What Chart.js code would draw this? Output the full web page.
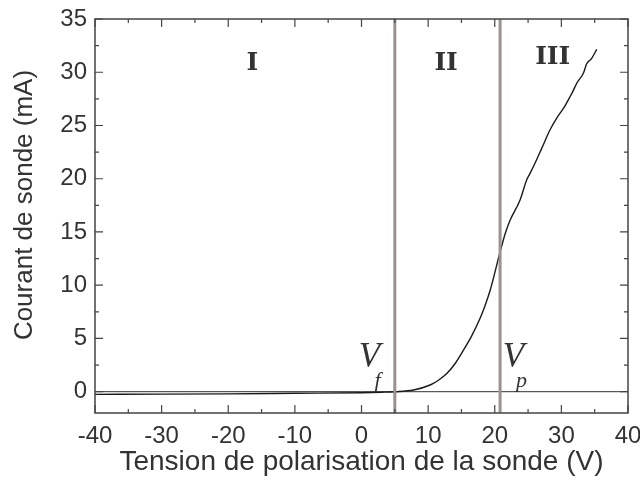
<!DOCTYPE html>
<html>
<head>
<meta charset="utf-8">
<script src="https://cdn.jsdelivr.net/npm/chart.js@4/dist/chart.umd.min.js"></script>
<style>
  html, body { margin: 0; padding: 0; background: #fff; }
  #wrap { width: 640px; height: 479px; }
</style>
</head>
<body>
<div id="wrap"><canvas id="probeChart" width="640" height="479"></canvas></div>
<script>
// probe voltage (V) and probe current (mA)
const voltage = [-40, -30, -20, -10, 0, 3, 5, 7.8, 10.3, 11.5, 12.8, 14, 15.3, 16.5, 17.8, 18.5, 19.3, 19.9, 20.5, 21.05, 21.6, 22.3, 23.8, 24.8, 25.3, 26.0, 27.05, 28.3, 29.3, 30.5, 31.3, 31.8, 32.3, 33.3, 33.8, 34.55, 35.3];
const current = [-0.25, -0.23, -0.2, -0.15, -0.1, -0.05, 0, 0.16, 0.63, 1.05, 1.7, 2.6, 3.9, 5.2, 6.9, 8.0, 9.5, 10.9, 12.4, 13.7, 14.9, 16.1, 18.0, 19.9, 20.5, 21.4, 22.85, 24.6, 25.7, 26.8, 27.7, 28.3, 28.96, 29.9, 30.8, 31.3, 32.15];

const xTicks = [-40, -30, -20, -10, 0, 10, 20, 30, 40];
const yTicks = [0, 5, 10, 15, 20, 25, 30, 35];

const vFloat = 5;     // V_f
const vPlasma = 20.8; // V_p
const regions = ['I', 'II', 'III'];

const X_MIN = -40, X_MAX = 40, Y_MIN = -2, Y_MAX = 35;
const ink = '#333333';
const sepColor = '#9b918d';

document.addEventListener("DOMContentLoaded", () => {

  const curve = voltage.map((v, i) => ({ x: v, y: current[i] }));

  // frame, inward ticks on all four sides, and the text annotations
  const framePlugin = {
    id: 'frame',
    afterDatasetsDraw(chart) {
      const { ctx, chartArea: a, scales: { x, y } } = chart;
      ctx.save();
      ctx.strokeStyle = '#444';
      ctx.lineWidth = 1.5;
      ctx.strokeRect(a.left, a.top, a.right - a.left, a.bottom - a.top);

      ctx.lineWidth = 1.2;
      ctx.beginPath();
      for (let v = X_MIN; v <= X_MAX; v += 5) {
        const px = x.getPixelForValue(v);
        const len = v % 10 === 0 ? 8 : 4;
        ctx.moveTo(px, a.bottom); ctx.lineTo(px, a.bottom - len);
        ctx.moveTo(px, a.top); ctx.lineTo(px, a.top + len);
      }
      for (let v = 0; v <= Y_MAX; v += 2.5) {
        const py = y.getPixelForValue(v);
        const len = v % 5 === 0 ? 8 : 4;
        ctx.moveTo(a.left, py); ctx.lineTo(a.left + len, py);
        ctx.moveTo(a.right, py); ctx.lineTo(a.right - len, py);
      }
      ctx.stroke();

      // region numerals
      ctx.fillStyle = ink;
      ctx.textAlign = 'center';
      ctx.textBaseline = 'middle';
      ctx.font = 'bold 25px "DejaVu Serif"';
      const regionPos = [[-16.4, 30.8], [12.7, 30.8], [28.7, 31.4]];
      regions.forEach((r, i) => {
        ctx.fillText(r, x.getPixelForValue(regionPos[i][0]), y.getPixelForValue(regionPos[i][1]));
      });

      // V_f and V_p
      const vLabel = (xv, sub) => {
        const px = x.getPixelForValue(xv);
        const py = y.getPixelForValue(3);
        ctx.font = 'italic 35px "Liberation Serif"';
        ctx.fillText('V', px, py - 2);
        ctx.font = 'italic 22px "Liberation Serif"';
        ctx.fillText(sub, px + 8, py + 21);
      };
      vLabel(vFloat - 3.8, 'f');
      vLabel(vPlasma + 2.0, 'p');

      // y axis title, set a little above the plot's centre as in the picture
      ctx.save();
      ctx.translate(25, (a.top + a.bottom) / 2 - 11);
      ctx.rotate(-Math.PI / 2);
      ctx.font = '26px "Liberation Sans"';
      ctx.fillText('Courant de sonde (mA)', 0, 0);
      ctx.restore();
      ctx.restore();
    }
  };

  new Chart(document.getElementById("probeChart"), {
    type: 'line',
    data: {
      datasets: [
        {
          data: curve,
          borderColor: '#1a1a1a',
          borderWidth: 1.4,
          pointRadius: 0,
          cubicInterpolationMode: 'monotone',
          order: 2
        },
        {
          data: [{ x: X_MIN, y: 0 }, { x: X_MAX, y: 0 }],
          borderColor: '#333',
          borderWidth: 1,
          pointRadius: 0,
          order: 3
        },
        {
          data: [{ x: vFloat, y: Y_MIN }, { x: vFloat, y: Y_MAX }],
          borderColor: sepColor,
          borderWidth: 3,
          pointRadius: 0,
          order: 1
        },
        {
          data: [{ x: vPlasma, y: Y_MIN }, { x: vPlasma, y: Y_MAX }],
          borderColor: sepColor,
          borderWidth: 3,
          pointRadius: 0,
          order: 1
        }
      ]
    },
    options: {
      responsive: false,
      animation: false,
      layout: { padding: { left: 0, top: 19, right: 12, bottom: 0 } },
      plugins: {
        legend: { display: false },
        tooltip: { enabled: false }
      },
      scales: {
        x: {
          type: 'linear',
          min: X_MIN,
          max: X_MAX,
          afterBuildTicks: s => { s.ticks = xTicks.map(v => ({ value: v })); },
          afterFit: s => { s.height = 66; s.paddingLeft = 0; s.paddingRight = 0; },
          grid: { display: false, drawTicks: false },
          border: { display: false },
          ticks: {
            color: ink,
            padding: 9,
            font: { family: '"Liberation Sans"', size: 24 }
          },
          title: {
            display: true,
            text: 'Tension de polarisation de la sonde (V)',
            color: ink,
            padding: { top: 0, bottom: 0 },
            font: { family: '"Liberation Sans"', size: 28 }
          }
        },
        y: {
          min: Y_MIN,
          max: Y_MAX,
          afterBuildTicks: s => { s.ticks = yTicks.map(v => ({ value: v })); },
          afterFit: s => { s.width = 95; s.paddingTop = 0; s.paddingBottom = 0; },
          grid: { display: false, drawTicks: false },
          border: { display: false },
          ticks: {
            color: ink,
            padding: 8,
            font: { family: '"Liberation Sans"', size: 24 }
          },
          title: { display: false }
        }
      }
    },
    plugins: [framePlugin]
  });

});
</script>
</body>
</html>
